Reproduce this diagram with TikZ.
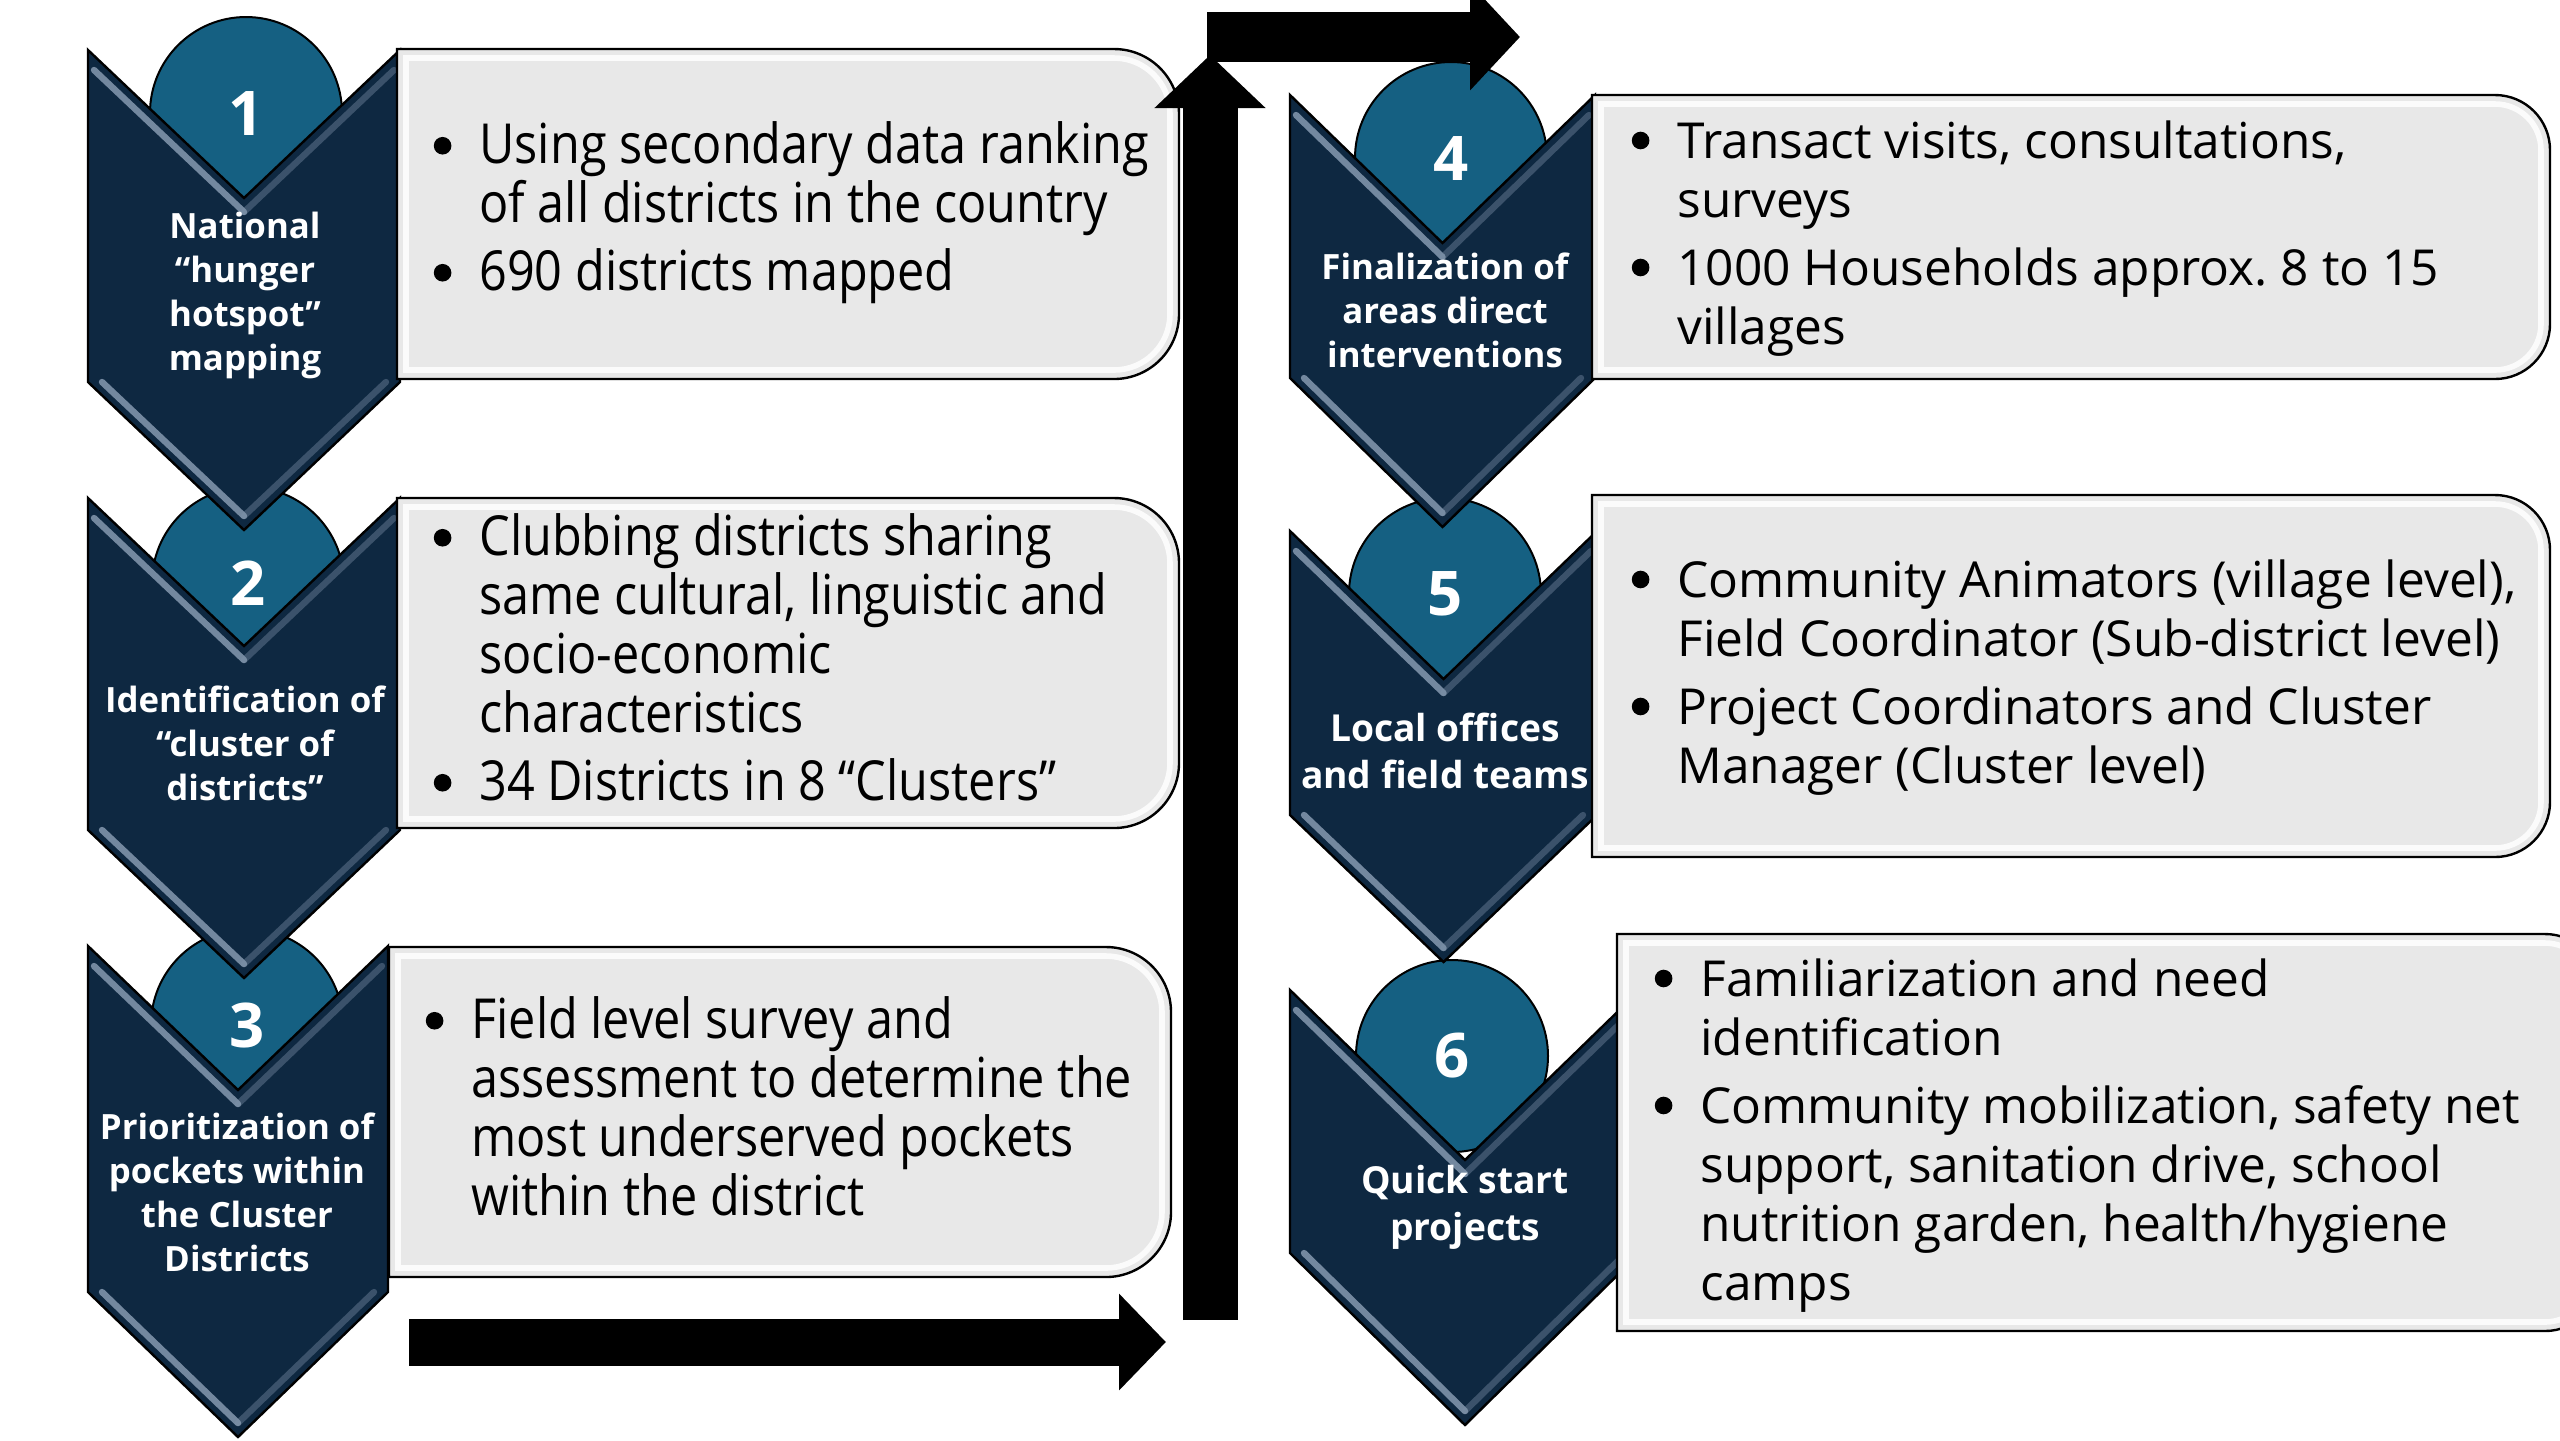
\documentclass[tikz,border=0pt]{standalone}
\usepackage{fontspec}
\setmainfont{Open Sans}
\newfontfamily\narrowfont[FakeStretch=0.88]{Open Sans}
\usetikzlibrary{arrows.meta}
\definecolor{navy}{HTML}{0E2841}
\definecolor{circblue}{HTML}{156082}
\definecolor{boxgray}{HTML}{E8E8E8}
\definecolor{bevelc}{HTML}{7F93AA}
\frenchspacing
\newcommand\chev[6]{%
  \pgfmathsetmacro\chevcx{(#1+#2)/2}%
  \draw[chevst] (#1,#3) -- (\chevcx,#4) -- (#2,#3) -- (#2,#5) -- (\chevcx,#6) -- (#1,#5) -- cycle;
  \draw[bevel] ({#1+6},{#3+20}) -- (\chevcx,{#4+14});
  \draw[bevel] ({#1+14},#5) -- (\chevcx,{#6-14});
  \draw[bevel,opacity=0.4] (\chevcx,{#6-14}) -- ({#2-14},#5);
  \draw[bevel,opacity=0.4] (\chevcx,{#4+14}) -- ({#2-6},{#3+20});
}
\newcommand\rpath[6]{%
  \draw[#6] ({#1},{#2}) -- ({(#3)-(#5)},{#2}) .. controls ({(#3)-0.448*(#5)},{#2}) and ({#3},{(#2)+0.448*(#5)}) .. ({#3},{(#2)+(#5)}) -- ({#3},{(#4)-(#5)}) .. controls ({#3},{(#4)-0.448*(#5)}) and ({(#3)-0.448*(#5)},{#4}) .. ({(#3)-(#5)},{#4}) -- ({#1},{#4}) -- cycle;
}
\newcommand\rbox[5]{%
  \rpath{#1}{#2}{#3}{#4}{#5}{boxst}
  \rpath{(#1)+9}{(#2)+9}{(#3)-9}{(#4)-9}{(#5)-9}{boxhl}
}
% bullet: dot of radius 2.2pt, then indent
\newcommand\bl{\makebox[11.4pt][l]{\raisebox{2.3pt}{\tikz\fill[black] (0,0) circle (2.2pt);}}}
\newcommand\ind{\hspace*{11.4pt}}
\begin{document}
\begin{tikzpicture}[x=0.25pt, y=-0.25pt,
  chevst/.style={fill=navy, draw=black, line width=0.6pt, line join=miter},
  bevel/.style={draw=bevelc, line width=1.6pt, line cap=round, opacity=0.9},
  boxst/.style={fill=boxgray, draw=black, line width=0.6pt},
  boxhl/.style={draw=white, line width=1.4pt, opacity=0.85},
  circst/.style={circle, fill=circblue, draw=black, line width=0.5pt, minimum size=48pt, inner sep=0pt, text=white, font=\bfseries\fontsize{15.4}{18}\selectfont},
  ctext/.style={text=white, align=center, inner sep=0pt, font=\bfseries\fontsize{8.7}{11}\selectfont},
  ctextL/.style={text=white, align=center, inner sep=0pt, font=\bfseries\fontsize{9.3}{11.8}\selectfont},
  btextA/.style={anchor=north west, inner sep=0pt, align=left, font=\narrowfont\fontsize{13.8}{14.75}\selectfont},
  btextB/.style={anchor=north west, inner sep=0pt, align=left, font=\fontsize{12.4}{14.75}\selectfont},
  barrow/.style={draw=black, line cap=butt}
]
\useasboundingbox (0,0) rectangle (2560,1440);
\clip (0,0) rectangle (2560,1440);
\fill[white] (0,0) rectangle (2560,1440);

% circles with numbers
\node[circst] (c1) at (246,113) {1};
\node[circst] (c2) at (248,583) {2};
\node[circst] (c3) at (247,1025) {3};
\node[circst] (c4) at (1451,158) {4};
\node[circst] (c5) at (1445,594) {5};
\node[circst] (c6) at (1452,1056) {6};

% chevrons: L R T N S P
\chev{88}{400}{50}{198}{382}{530}
\chev{88}{400}{498}{646}{830}{978}
\chev{88}{388}{946}{1090}{1292}{1437}
\chev{1290}{1595}{95}{243}{378}{527}
\chev{1290}{1597}{531}{679}{815}{962}
\chev{1290}{1640}{990}{1160}{1253}{1425}

% boxes
\rbox{397}{49}{1179}{379}{65}
\rbox{397}{498}{1179}{828}{65}
\rbox{389}{947}{1171}{1277}{65}
\rbox{1592}{95}{2550}{379}{55}
\rbox{1592}{495}{2550}{857}{55}
\rbox{1617}{934}{2600}{1331}{55}

% block arrows
\coordinate (b1) at (409,1342);
\coordinate (b2) at (1166,1342);
\coordinate (v1) at (1210,1320);
\coordinate (v2) at (1210,55);
\coordinate (h1) at (1207,37);
\coordinate (h2) at (1520,37);
\draw[barrow, line width=11.75pt, -{Triangle[length=11.75pt, width=23.5pt]}] (b1) -- (b2);
\draw[barrow, line width=13.75pt, -{Triangle[length=13.25pt, width=27pt]}] (v1) -- (v2);
\draw[barrow, line width=12.5pt, -{Triangle[length=12.5pt, width=26pt]}] (h1) -- (h2);

% chevron labels
\node[ctext] (l1) at (245,295) {National\\“hunger\\hotspot”\\mapping};
\node[ctext] (l2) at (245,743) {Identification of\\“cluster of\\districts”};
\node[ctext] (l3) at (237,1192) {Prioritization of\\pockets within\\the Cluster\\Districts};
\node[ctext] (l4) at (1445,310) {Finalization of\\areas direct\\interventions};
\node[ctextL] (l5) at (1445,751) {Local offices\\and field teams};
\node[ctextL] (l6) at (1465,1207) {Quick start\\projects};

% box texts
\node[btextA] (t1) at (433,121) {\bl Using secondary data ranking\\\ind of all districts in the country\\[2.25pt]\bl 690 districts mapped};
\node[btextA] (t2) at (433,513) {\bl Clubbing districts sharing\\\ind same cultural, linguistic and\\\ind socio-economic\\\ind characteristics\\[2.25pt]\bl 34 Districts in 8 “Clusters”};
\node[btextA] (t3) at (425,996) {\bl Field level survey and\\\ind assessment to determine the\\\ind most underserved pockets\\\ind within the district};
\node[btextB] (t4) at (1631,120) {\bl Transact visits, consultations,\\\ind surveys\\[2.25pt]\bl 1000 Households approx. 8 to 15\\\ind villages};
\node[btextB] (t5) at (1631,559) {\bl Community Animators (village level),\\\ind Field Coordinator (Sub-district level)\\[2.25pt]\bl Project Coordinators and Cluster\\\ind Manager (Cluster level)};
\node[btextB] (t6) at (1654,958) {\bl Familiarization and need\\\ind identification\\[2.25pt]\bl Community mobilization, safety net\\\ind support, sanitation drive, school\\\ind nutrition garden, health/hygiene\\\ind camps};
\end{tikzpicture}
\end{document}
